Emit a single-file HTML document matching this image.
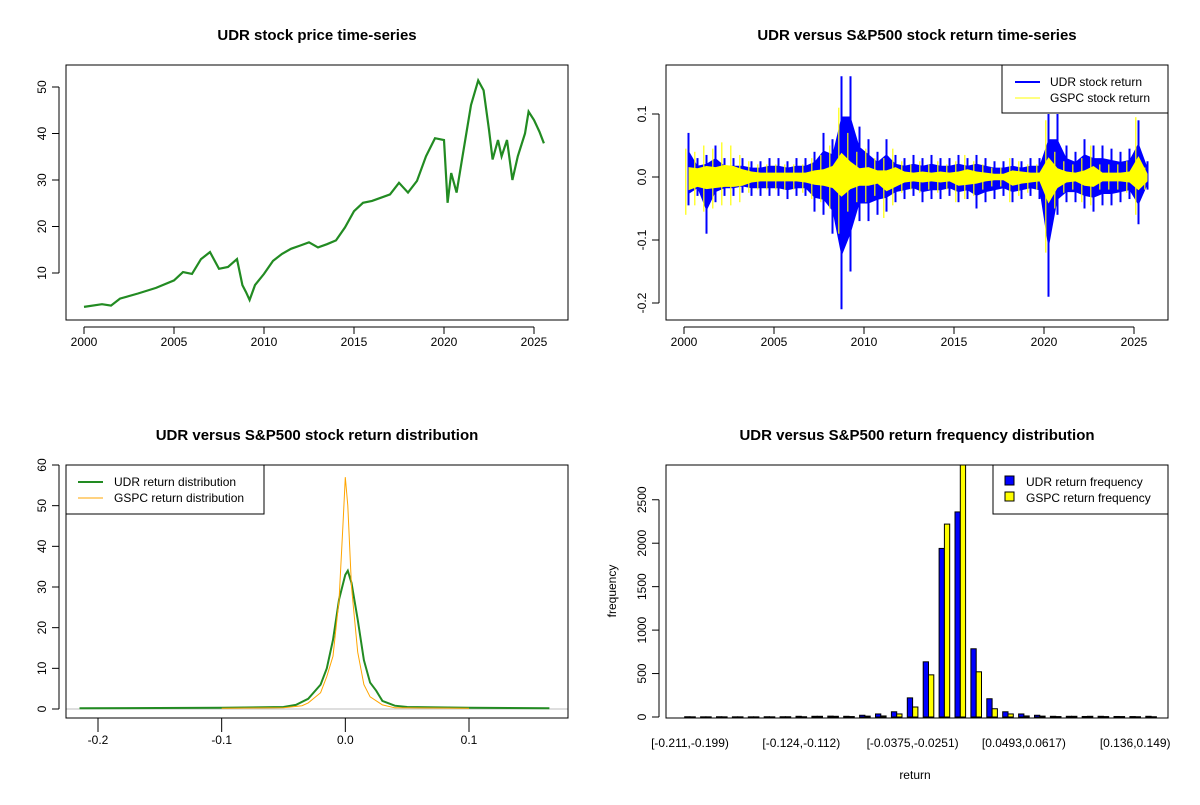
<!DOCTYPE html>
<html><head><meta charset="utf-8"><style>
body{margin:0;background:#fff}
svg text{font-family:"Liberation Sans",Arial,sans-serif;fill:#000}
.t{font-size:15px;font-weight:bold}
.l{font-size:12px}
</style></head><body>
<svg id="c" width="1200" height="800" viewBox="0 0 1200 800"></svg>
<script>
// ---------- data ----------
const priceYears=[2000,2001,2001.5,2002,2003,2004,2005,2005.5,2006,2006.5,2007,2007.5,2008,2008.5,2008.8,2009,2009.2,2009.5,2010,2010.5,2011,2011.5,2012,2012.5,2013,2013.5,2014,2014.5,2015,2015.5,2016,2016.5,2017,2017.5,2018,2018.5,2019,2019.5,2020,2020.2,2020.4,2020.7,2021,2021.5,2021.9,2022.2,2022.5,2022.7,2023,2023.2,2023.5,2023.8,2024.1,2024.5,2024.7,2025,2025.3,2025.55];
const priceValues=[2.7,3.3,3.0,4.5,5.6,6.8,8.4,10.2,9.8,13.0,14.5,10.9,11.3,13.0,7.4,5.9,4.2,7.4,9.8,12.6,14.1,15.2,15.9,16.6,15.5,16.2,17.0,19.8,23.3,25.1,25.5,26.2,26.9,29.4,27.3,29.8,35.1,39.0,38.6,25.1,31.5,27.3,34.4,46.1,51.4,49.3,40.8,34.4,38.6,35.1,38.6,30.0,35.1,40,44.7,42.9,40.4,37.9];
const priceTicksY=[10,20,30,40,50];
const yearTicks=[2000,2005,2010,2015,2020,2025];

const retYears=[2000,2000.5,2001,2001.5,2002,2002.5,2003,2003.5,2004,2004.5,2005,2005.5,2006,2006.5,2007,2007.5,2008,2008.5,2009,2009.5,2010,2010.5,2011,2011.5,2012,2012.5,2013,2013.5,2014,2014.5,2015,2015.5,2016,2016.5,2017,2017.5,2018,2018.5,2019,2019.5,2020,2020.5,2021,2021.5,2022,2022.5,2023,2023.5,2024,2024.5,2025,2025.5];
const udrMax=[0.07,0.03,0.035,0.05,0.03,0.03,0.03,0.025,0.025,0.03,0.03,0.025,0.03,0.03,0.04,0.07,0.06,0.16,0.16,0.08,0.06,0.04,0.06,0.035,0.03,0.035,0.03,0.035,0.03,0.03,0.035,0.03,0.035,0.03,0.025,0.025,0.03,0.025,0.03,0.03,0.10,0.10,0.05,0.04,0.06,0.05,0.05,0.045,0.04,0.045,0.09,0.025];
const udrMin=[-0.045,-0.03,-0.09,-0.04,-0.03,-0.03,-0.025,-0.03,-0.03,-0.03,-0.03,-0.035,-0.03,-0.03,-0.055,-0.06,-0.09,-0.21,-0.15,-0.07,-0.07,-0.06,-0.055,-0.04,-0.035,-0.03,-0.04,-0.035,-0.035,-0.03,-0.04,-0.035,-0.05,-0.04,-0.035,-0.03,-0.04,-0.035,-0.03,-0.035,-0.19,-0.06,-0.04,-0.04,-0.05,-0.055,-0.045,-0.045,-0.04,-0.035,-0.075,-0.02];
const gspcMax=[0.045,0.04,0.05,0.045,0.055,0.05,0.035,0.025,0.02,0.02,0.02,0.02,0.02,0.02,0.03,0.035,0.05,0.11,0.07,0.04,0.045,0.03,0.03,0.045,0.025,0.02,0.025,0.02,0.025,0.02,0.025,0.035,0.025,0.02,0.015,0.015,0.03,0.025,0.02,0.02,0.09,0.04,0.025,0.02,0.03,0.05,0.02,0.02,0.02,0.025,0.095,0.015];
const gspcMin=[-0.06,-0.045,-0.055,-0.05,-0.045,-0.045,-0.04,-0.025,-0.02,-0.02,-0.02,-0.02,-0.02,-0.025,-0.035,-0.04,-0.05,-0.09,-0.055,-0.04,-0.04,-0.03,-0.065,-0.045,-0.025,-0.02,-0.025,-0.02,-0.025,-0.02,-0.04,-0.035,-0.03,-0.02,-0.015,-0.015,-0.04,-0.03,-0.025,-0.02,-0.12,-0.05,-0.025,-0.02,-0.04,-0.045,-0.02,-0.02,-0.02,-0.025,-0.06,-0.02];
const retTicksY=[-0.2,-0.1,0.0,0.1];

const udrDensX=[-0.215,-0.1,-0.05,-0.04,-0.03,-0.02,-0.015,-0.01,-0.005,0.0,0.002,0.005,0.01,0.015,0.02,0.025,0.03,0.04,0.05,0.1,0.165];
const udrDensY=[0.2,0.3,0.5,1,2.5,6,10,17,27,33,34,31,22,12,6.5,4.5,2,0.8,0.5,0.3,0.2];
const gspcDensX=[-0.1,-0.05,-0.035,-0.03,-0.02,-0.015,-0.01,-0.005,-0.002,0.0,0.002,0.005,0.01,0.015,0.02,0.03,0.04,0.1];
const gspcDensY=[0.2,0.3,0.8,1.5,4,8,13,27,45,57,50,30,14,6,3,1,0.3,0.2];
const densTicksX=[-0.2,-0.1,0.0,0.1];
const densTicksY=[0,10,20,30,40,50,60];

const binLabels=["[-0.211,-0.199)","[-0.124,-0.112)","[-0.0375,-0.0251)","[0.0493,0.0617)","[0.136,0.149)"];
const binLabelIdx=[0,7,14,21,28];
const udrFreq=[3,2,3,2,2,3,3,8,8,10,8,20,35,60,220,635,1940,2360,785,210,60,35,20,8,8,6,8,6,5,8];
const gspcFreq=[2,2,2,2,2,2,3,3,8,8,5,10,12,35,115,485,2220,2900,520,95,35,12,10,5,8,8,5,5,3,3];
const freqTicksY=[0,500,1000,1500,2000,2500];

// ---------- helpers ----------
const NS="http://www.w3.org/2000/svg";
const svg=document.getElementById('c');
function mk(tag,attrs,parent,txt){const e=document.createElementNS(NS,tag);for(const k in attrs)e.setAttribute(k,attrs[k]);if(txt!==undefined)e.textContent=txt;(parent||svg).appendChild(e);return e;}
function lin(d0,d1,r0,r1){return v=>r0+(v-d0)/(d1-d0)*(r1-r0);}
function panel(name){const g=mk('g',{});return g;}
function box(g,b){const r=mk('rect',{x:b.x0,y:b.y0,width:b.x1-b.x0,height:b.y1-b.y0,fill:'none',stroke:'#000','stroke-width':1},g);}
function title(g,x,y,s){const t=mk('text',{x:x,y:y,'text-anchor':'middle',class:'t'},g,s);}
function xaxis(g,b,ticks,sx,fmt,line){
  if(line){const l=mk('line',{x1:sx(ticks[0]),x2:sx(ticks[ticks.length-1]),y1:b.y1+7,y2:b.y1+7,stroke:'#000'},g);}
  ticks.forEach(v=>{const x=sx(v);
    const tk=mk('line',{x1:x,x2:x,y1:b.y1+(line?7:0),y2:b.y1+14,stroke:'#000'},g);
    const t=mk('text',{x:x,y:b.y1+26,'text-anchor':'middle',class:'l'},g,fmt(v));});
}
function yaxis(g,b,ticks,sy,fmt){
  const l=mk('line',{x1:b.x0-7,x2:b.x0-7,y1:sy(ticks[0]),y2:sy(ticks[ticks.length-1]),stroke:'#000'},g);
  ticks.forEach(v=>{const y=sy(v);
    const tk=mk('line',{x1:b.x0-14,x2:b.x0-7,y1:y,y2:y,stroke:'#000'},g);
    const t=mk('text',{x:b.x0-20,y:y,'text-anchor':'middle',class:'l',transform:`rotate(-90 ${b.x0-20} ${y})`},g,fmt(v));});
}
function poly(xs,ys,sx,sy){return xs.map((v,i)=>sx(v).toFixed(1)+','+sy(ys[i]).toFixed(1)).join(' ');}

// ---------- panel 1: price ----------
{const g=panel('price-panel');const b={x0:66,x1:568,y0:65,y1:320};
 const sx=lin(2000,2025,84,534), sy=lin(10,50,273,87);
 title(g,317,40,'UDR stock price time-series');
 const p=mk('polyline',{points:poly(priceYears,priceValues,sx,sy),fill:'none',stroke:'#228B22','stroke-width':2.2},g);
 
 box(g,b);xaxis(g,b,yearTicks,sx,v=>String(v),true);yaxis(g,b,priceTicksY,sy,v=>String(v));}

// ---------- panel 2: returns ----------
{const g=panel('returns-panel');const b={x0:666,x1:1168,y0:65,y1:320};
 const sx=lin(2000,2025,684,1134), sy=lin(0,0.1,177,114);
 title(g,917,40,'UDR versus S&P500 stock return time-series');
 const band=(mx,mn,f)=>{const top=retYears.map((t,i)=>sx(t+0.25).toFixed(1)+','+sy(mx[i]*f).toFixed(1));
   const bot=retYears.map((t,i)=>sx(t+0.25).toFixed(1)+','+sy(mn[i]*f).toFixed(1)).reverse();return top.concat(bot).join(' ');};
 const ub=mk('polygon',{points:band(udrMax,udrMin,0.6),fill:'#0000FF'},g);
 retYears.forEach((t,i)=>{const l=mk('line',{x1:sx(t+0.25),x2:sx(t+0.25),y1:sy(udrMax[i]),y2:sy(udrMin[i]),stroke:'#0000FF','stroke-width':2},g);
   });
 const gb=mk('polygon',{points:band(gspcMax,gspcMin,0.35),fill:'#FFFF00'},g);
 retYears.forEach((t,i)=>{const l=mk('line',{x1:sx(t+0.1),x2:sx(t+0.1),y1:sy(gspcMax[i]),y2:sy(gspcMin[i]),stroke:'#FFFF00','stroke-width':1.2},g);
   });
 box(g,b);xaxis(g,b,yearTicks,sx,v=>String(v),true);yaxis(g,b,retTicksY,sy,v=>v.toFixed(1));
 const lg=mk('g',{},g);
 mk('rect',{x:1002,y:65,width:166,height:48,fill:'#fff',stroke:'#000'},lg);
 mk('line',{x1:1015,x2:1040,y1:82,y2:82,stroke:'#0000FF','stroke-width':2},lg);
 mk('line',{x1:1015,x2:1040,y1:98,y2:98,stroke:'#FFFF00','stroke-width':1},lg);
 const a=mk('text',{x:1050,y:86,class:'l'},lg,'UDR stock return');
 const c=mk('text',{x:1050,y:102,class:'l'},lg,'GSPC stock return');}

// ---------- panel 3: density ----------
{const g=panel('density-panel');const b={x0:66,x1:568,y0:465,y1:718};
 const sx=lin(-0.2,0.1,98,469), sy=lin(0,60,709,465);
 title(g,317,440,'UDR versus S&P500 stock return distribution');
 const z=mk('line',{x1:b.x0,x2:b.x1,y1:sy(0),y2:sy(0),stroke:'#bebebe'},g);
 const u=mk('polyline',{points:poly(udrDensX,udrDensY,sx,sy),fill:'none',stroke:'#228B22','stroke-width':2},g);
 const s=mk('polyline',{points:poly(gspcDensX,gspcDensY,sx,sy),fill:'none',stroke:'#FFA500','stroke-width':1},g);
 box(g,b);xaxis(g,b,densTicksX,sx,v=>v.toFixed(1),false);yaxis(g,b,densTicksY,sy,v=>String(v));
 const lg=mk('g',{},g);
 mk('rect',{x:66,y:465,width:198,height:49,fill:'#fff',stroke:'#000'},lg);
 mk('line',{x1:78,x2:103,y1:482,y2:482,stroke:'#228B22','stroke-width':2},lg);
 mk('line',{x1:78,x2:103,y1:498,y2:498,stroke:'#FFA500','stroke-width':1},lg);
 const a=mk('text',{x:114,y:486,class:'l'},lg,'UDR return distribution');
 const c=mk('text',{x:114,y:502,class:'l'},lg,'GSPC return distribution');}

// ---------- panel 4: histogram ----------
{const g=panel('histogram-panel');const b={x0:666,x1:1168,y0:465,y1:718};
 const groupW=15.9, bw=5.3, cx=i=>690+i*groupW;
 const sy=lin(0,2900,717,465);
 const cl=mk('clipPath',{id:'histclip'},g);mk('rect',{x:b.x0,y:b.y0,width:b.x1-b.x0,height:b.y1-b.y0},cl);
 title(g,917,440,'UDR versus S&P500 return frequency distribution');
 const bars=mk('g',{'clip-path':'url(#histclip)'},g);
 udrFreq.forEach((v,i)=>{const r=mk('rect',{x:cx(i)-bw,y:sy(v),width:bw,height:sy(0)-sy(v),fill:'#0000FF',stroke:'#000','stroke-width':1},bars);
   });
 gspcFreq.forEach((v,i)=>{const r=mk('rect',{x:cx(i),y:sy(v),width:bw,height:sy(0)-sy(v),fill:'#FFFF00',stroke:'#000','stroke-width':1},bars);
   });
 box(g,b);
 binLabelIdx.forEach((idx,k)=>{const t=mk('text',{x:cx(idx),y:747,'text-anchor':'middle',class:'l'},g,binLabels[k]);});
 yaxis(g,b,freqTicksY,sy,v=>String(v));
 const xl=mk('text',{x:915,y:779,'text-anchor':'middle',class:'l'},g,'return');
 const yl=mk('text',{x:616,y:591,'text-anchor':'middle',class:'l',transform:'rotate(-90 616 591)'},g,'frequency');
 const lg=mk('g',{},g);
 mk('rect',{x:993,y:465,width:175,height:49,fill:'#fff',stroke:'#000'},lg);
 mk('rect',{x:1005,y:476,width:9,height:9,fill:'#0000FF',stroke:'#000'},lg);
 mk('rect',{x:1005,y:492,width:9,height:9,fill:'#FFFF00',stroke:'#000'},lg);
 const a=mk('text',{x:1026,y:486,class:'l'},lg,'UDR return frequency');
 const c=mk('text',{x:1026,y:502,class:'l'},lg,'GSPC return frequency');}
</script>
</body></html>
